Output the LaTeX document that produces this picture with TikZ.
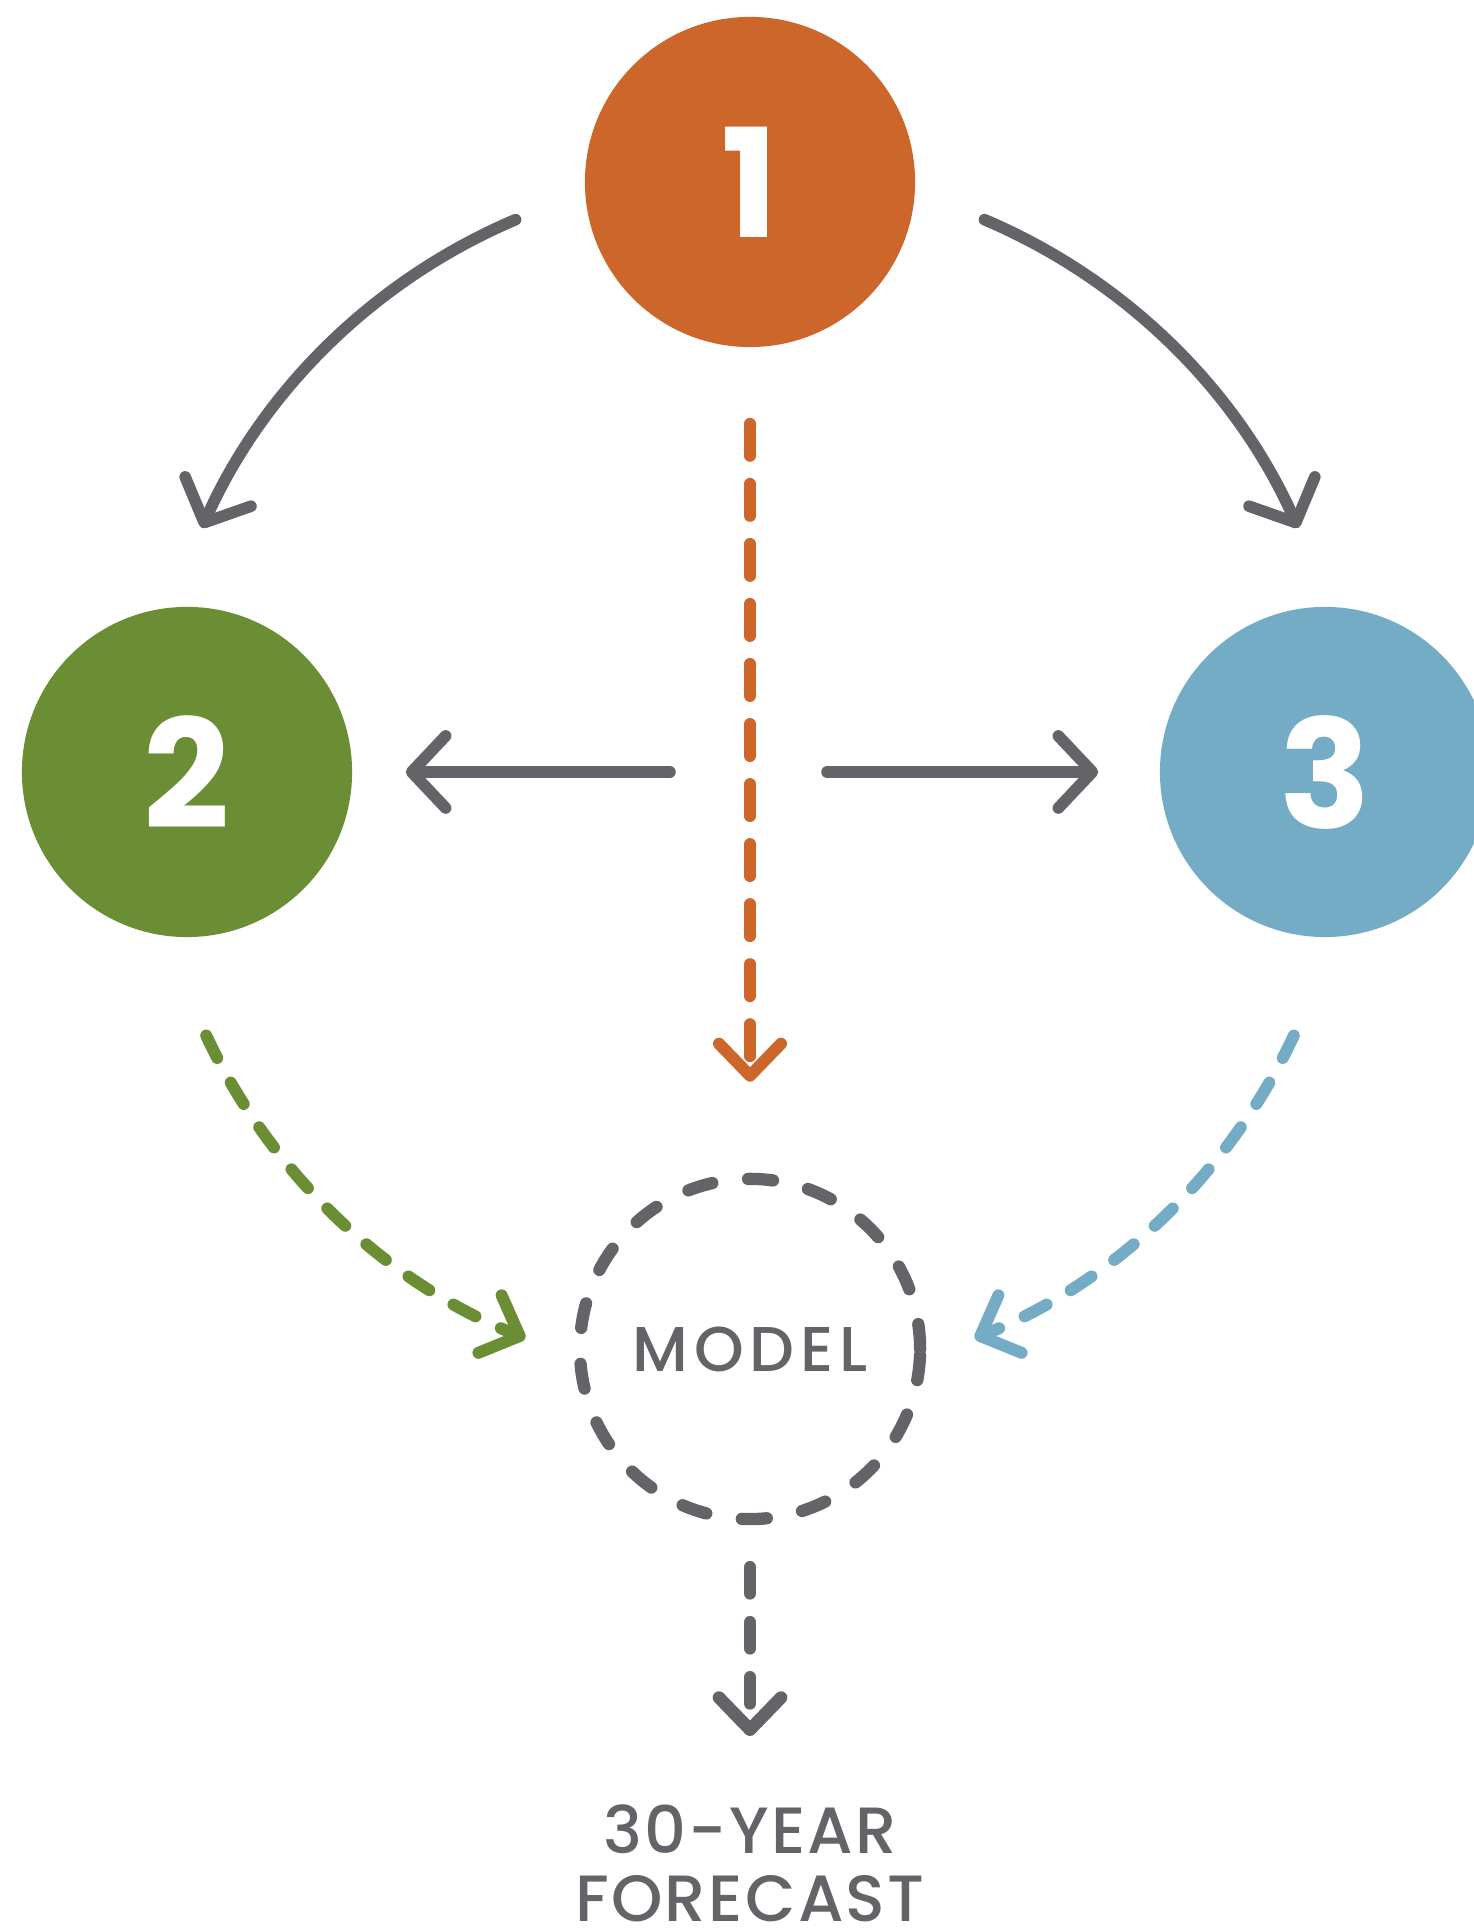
\documentclass[tikz,border=0pt]{standalone}
\usepackage{fontspec}
\setmainfont{Poppins}
\newfontfamily\medfont{Poppins Medium}
\usetikzlibrary{arrows.meta}
\definecolor{rust}{RGB}{205,102,43}
\definecolor{moss}{RGB}{107,142,52}
\definecolor{sky}{RGB}{116,172,198}
\definecolor{slate}{RGB}{100,100,104}

\begin{document}
\begin{tikzpicture}[x=0.01cm,y=0.01cm]
  \tikzstyle{stage}=[circle,minimum size=3.3cm,inner sep=0pt,text=white,font=\fontsize{43}{43}\selectfont\bfseries]
  \tikzstyle{flow}=[line width=3.3pt,slate,line cap=round,-{Straight Barb[length=3.4mm,width=7.2mm,round]}]
  \tikzstyle{feed}=[line width=3.4pt,line cap=round,dash pattern=on 3.2mm off 2.8mm,-{Straight Barb[length=3.2mm,width=6.2mm,round]}]
  \tikzstyle{label}=[text=slate,inner sep=0pt,align=center]
  \useasboundingbox (0,0) rectangle (1474,1928);
  \clip (0,0) rectangle (1474,1928);
  \coordinate (hub) at (750,1156);
  \coordinate (low) at (750,1146);
  \node[stage,fill=rust] (one) at (750,1746) {1};
  \node[stage,fill=moss] (two) at (187,1156) {2};
  \node[stage,fill=sky] (three) at (1325,1156) {3};
  \node[circle,draw=slate,line width=3.5pt,line cap=round,dash pattern=on 2.5mm off 3.6mm,minimum size=3.4cm,label,
    font=\medfont\fontsize{18}{18}\selectfont\addfontfeatures{LetterSpace=9}] (model) at (750,579) {MODEL};
  \node[label,anchor=north,font=\medfont\fontsize{18.6}{19.4}\selectfont\addfontfeatures{LetterSpace=3.5}] (fc) at (750,124) {30-YEAR\\FORECAST};
  % solid arrows
  \draw[flow] (hub) ++(113:600) arc[start angle=113,end angle=156,radius=600];
  \draw[flow] (hub) ++(67:600) arc[start angle=67,end angle=24,radius=600];
  \draw[flow,shorten >=0.53cm] ([xshift=-0.8cm]hub) -- (two);
  \draw[flow,shorten >=0.61cm] ([xshift=0.77cm]hub) -- (three);
  % dashed inputs
  \draw[feed,rust,shorten <=0.76cm,shorten >=0.91cm] (one) -- (model);
  \draw[feed,moss,dash pattern=on 2.5mm off 2.8mm] (low) ++(205:600) arc[start angle=205,end angle=248,radius=600];
  \draw[feed,sky,dash pattern=on 2.5mm off 2.8mm] (low) ++(335:600) arc[start angle=335,end angle=292,radius=600];
  \draw[feed,slate,line width=3.6pt,dash pattern=on 2.6mm off 2.9mm,shorten <=0.42cm,shorten >=0.68cm] (model.south) -- (fc.north);
\end{tikzpicture}
\end{document}
